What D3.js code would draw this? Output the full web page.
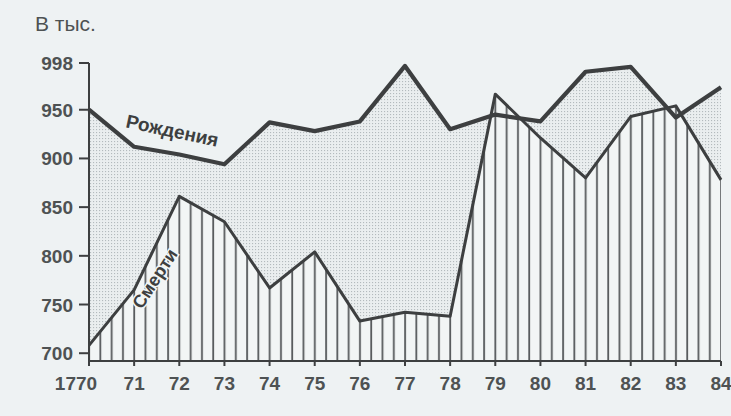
<!DOCTYPE html>
<html>
<head>
<meta charset="utf-8">
<script src="https://cdn.jsdelivr.net/npm/d3@7"></script>
<style>
  body { margin: 0; background: #eef2f3; }
  svg { display: block; }
</style>
</head>
<body>
<svg id="chart" width="731" height="416"></svg>
<script>
// Years and values (thousands)
const years = [1770, 1771, 1772, 1773, 1774, 1775, 1776, 1777, 1778, 1779, 1780, 1781, 1782, 1783, 1784];
const births = [950, 912, 904, 894, 937, 928, 938, 995, 930, 945, 938, 989, 994, 942, 973];
const deaths = [708, 765, 861, 835, 767, 804, 733, 742, 738, 966, 921, 880, 943, 954, 878];
const yTicks = [700, 750, 800, 850, 900, 950, 998];
const xLabels = ["1770", "71", "72", "73", "74", "75", "76", "77", "78", "79", "80", "81", "82", "83", "84"];

const svg = d3.select("#chart");

const x = d3.scaleLinear().domain([1770, 1784]).range([89, 721]);
const y = d3.scaleLinear().domain([692, 998]).range([361, 63]);
const base = y.domain()[0];

const ink = "#3d3f40";
const font = "'Liberation Sans', Arial, sans-serif";

// Patterns: stipple for births area, vertical hatch for deaths area
const defs = svg.append("defs");
const step = (x(1771) - x(1770)) / 4;

let dots = defs.append("pattern")
    .attr("id", "dots")
    .attr("patternUnits", "userSpaceOnUse")
    .attr("width", 3).attr("height", 3);
dots.append("rect").attr("width", 3).attr("height", 3).attr("fill", "#eaeeef");
dots.append("rect").attr("width", 1.1).attr("height", 1.1).attr("fill", "#b3babd");

let hatch = defs.append("pattern")
    .attr("id", "hatch")
    .attr("patternUnits", "userSpaceOnUse")
    .attr("x", x(1770) - 1)
    .attr("width", step).attr("height", 10);
hatch.append("rect").attr("width", step).attr("height", 10).attr("fill", "#f2f5f5");
hatch.append("rect").attr("x", 0.2).attr("width", 1.8).attr("height", 10).attr("fill", "#575a5c");

const area = vals => d3.area()
    .x((d, i) => x(years[i]))
    .y0(y(base))
    .y1(d => y(d))(vals);

const line = d3.line()
    .x((d, i) => x(years[i]))
    .y(d => y(d));

svg.append("path").attr("d", area(births)).attr("fill", "url(#dots)");
svg.append("path").attr("d", area(deaths)).attr("fill", "url(#hatch)");

// Lines
svg.append("path")
    .datum(deaths)
    .attr("d", line)
    .attr("fill", "none")
    .attr("stroke", ink)
    .attr("stroke-width", 3)
    .attr("stroke-linejoin", "round");

svg.append("path")
    .datum(births)
    .attr("d", line)
    .attr("fill", "none")
    .attr("stroke", ink)
    .attr("stroke-width", 4.2)
    .attr("stroke-linejoin", "round");

// Axes
svg.append("line")
    .attr("x1", x(1770)).attr("x2", x(1770))
    .attr("y1", y(998)).attr("y2", y(base))
    .attr("stroke", ink).attr("stroke-width", 2);
svg.append("line")
    .attr("x1", x(1770)).attr("x2", x(1784))
    .attr("y1", y(base)).attr("y2", y(base))
    .attr("stroke", ink).attr("stroke-width", 2);

yTicks.forEach(t => {
    svg.append("line")
        .attr("x1", x(1770) - 10).attr("x2", x(1770))
        .attr("y1", y(t)).attr("y2", y(t))
        .attr("stroke", ink).attr("stroke-width", 2);
    svg.append("text")
        .attr("x", 73)
        .attr("y", y(t) + 7)
        .attr("text-anchor", "end")
        .attr("font-family", font)
        .attr("font-size", "19px")
        .attr("font-weight", "bold")
        .attr("fill", "#4e5253")
        .text(t);
});

years.forEach((yr, i) => {
    svg.append("line")
        .attr("x1", x(yr)).attr("x2", x(yr))
        .attr("y1", y(base)).attr("y2", y(base) + 5)
        .attr("stroke", ink).attr("stroke-width", 2);
    svg.append("text")
        .attr("x", i === 0 ? 76 : x(yr))
        .attr("y", 390)
        .attr("text-anchor", "middle")
        .attr("font-family", font)
        .attr("font-size", "19px")
        .attr("font-weight", "bold")
        .attr("fill", "#4e5253")
        .text(xLabels[i]);
});

svg.append("text")
    .attr("x", 35).attr("y", 31)
    .attr("font-family", font)
    .attr("font-size", "21px")
    .attr("fill", "#4e5253")
    .text("В тыс.");

// Series labels
svg.append("text")
    .attr("transform", `translate(171,${137}) rotate(12)`)
    .attr("text-anchor", "middle")
    .attr("font-family", font)
    .attr("font-size", "19px")
    .attr("font-weight", "bold")
    .attr("fill", ink)
    .text("Рождения");

svg.append("text")
    .attr("transform", `translate(160,${282}) rotate(-57)`)
    .attr("text-anchor", "middle")
    .attr("font-family", font)
    .attr("font-size", "18px")
    .attr("font-weight", "bold")
    .attr("fill", ink)
    .attr("stroke", "#f2f5f5")
    .attr("stroke-width", 3)
    .attr("paint-order", "stroke")
    .text("Смерти");
</script>
</body>
</html>
